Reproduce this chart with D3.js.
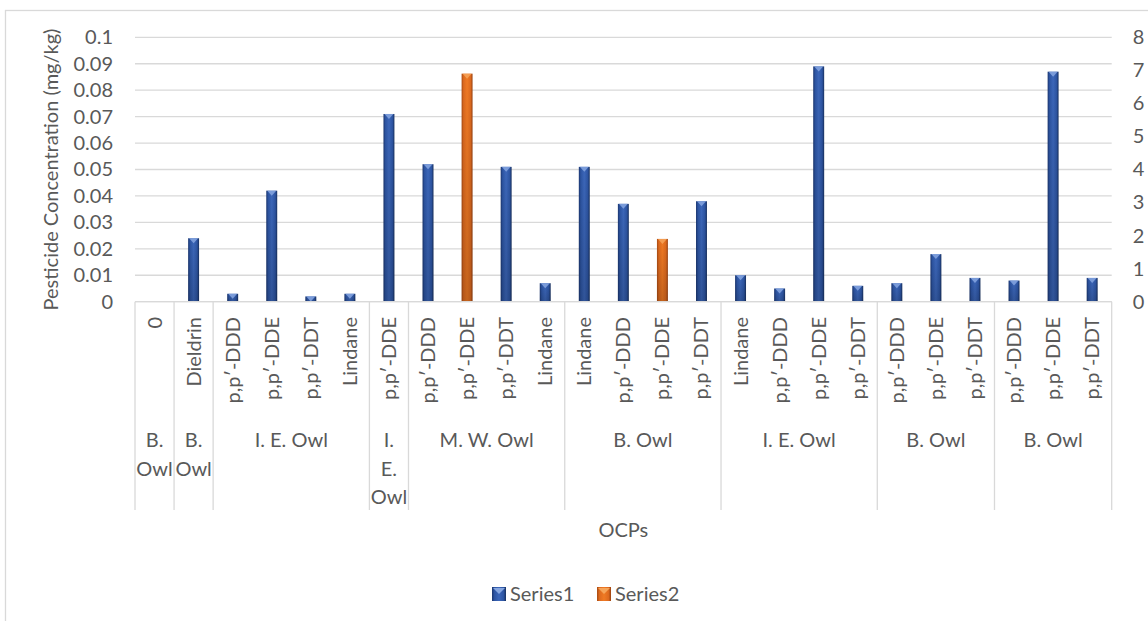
<!DOCTYPE html>
<html>
<head>
<meta charset="utf-8">
<script src="https://cdn.jsdelivr.net/npm/d3@7"></script>
<style>
  body { margin: 0; background: #fff; }
  svg { display: block; }
  text { font-family: Lato, "Open Sans", sans-serif; fill: #595959; }
</style>
</head>
<body>
<svg id="chart" width="1148" height="621"></svg>
<script>
// Outer category level (owl species), with the number of compounds under each
const groupNames = ["B. Owl", "B. Owl", "I. E. Owl", "I. E. Owl", "M. W. Owl", "B. Owl", "I. E. Owl", "B. Owl", "B. Owl"];
const groupSizes = [1, 1, 4, 1, 4, 4, 4, 3, 3];

// Inner category level (compound)
const compounds = [
  "0",
  "Dieldrin",
  "p,p′-DDD", "p,p′-DDE", "p,p′-DDT", "Lindane",
  "p,p′-DDE",
  "p,p′-DDD", "p,p′-DDE", "p,p′-DDT", "Lindane",
  "Lindane", "p,p′-DDD", "p,p′-DDE", "p,p′-DDT",
  "Lindane", "p,p′-DDD", "p,p′-DDE", "p,p′-DDT",
  "p,p′-DDD", "p,p′-DDE", "p,p′-DDT",
  "p,p′-DDD", "p,p′-DDE", "p,p′-DDT"
];

// Series1 on the primary axis (mg/kg)
const series1 = [
  0,
  0.024,
  0.003, 0.042, 0.002, 0.003,
  0.071,
  0.052, null, 0.051, 0.007,
  0.051, 0.037, null, 0.038,
  0.010, 0.005, 0.089, 0.006,
  0.007, 0.018, 0.009,
  0.008, 0.087, 0.009
];

// Series2 on the secondary axis
const series2 = [
  null,
  null,
  null, null, null, null,
  null,
  null, 6.9, null, null,
  null, null, 1.9, null,
  null, null, null, null,
  null, null, null,
  null, null, null
];

const leftTicks = [0, 0.01, 0.02, 0.03, 0.04, 0.05, 0.06, 0.07, 0.08, 0.09, 0.1];
const leftTickLabels = ["0", "0.01", "0.02", "0.03", "0.04", "0.05", "0.06", "0.07", "0.08", "0.09", "0.1"];
const rightTicks = [0, 1, 2, 3, 4, 5, 6, 7, 8];

const seriesNames = ["Series1", "Series2"];

const svg = d3.select("#chart");
const W = 1148, H = 621;
const plot = { left: 135, right: 1111.7, top: 37.3, bottom: 301.7 };
const FS = 20;

// chart area border
svg.append("rect")
  .attr("x", 5.5).attr("y", 10.5)
  .attr("width", W + 10).attr("height", H + 10)
  .attr("fill", "#fff").attr("stroke", "#d9d9d9").attr("stroke-width", 1.3);

// gradients giving the bars their bevelled look
const defs = svg.append("defs");
function hGrad(id, stops) {
  const g = defs.append("linearGradient").attr("id", id)
    .attr("x1", "0%").attr("x2", "100%").attr("y1", "0%").attr("y2", "0%");
  stops.forEach(([o, c]) => g.append("stop").attr("offset", o).attr("stop-color", c));
}
hGrad("blueBar", [["0%", "#1b3670"], ["18%", "#2d55a3"], ["50%", "#3c67ba"], ["82%", "#2d55a3"], ["100%", "#17305f"]]);
hGrad("orangeBar", [["0%", "#a84a12"], ["18%", "#dd6a1f"], ["50%", "#f07a24"], ["82%", "#dd6a1f"], ["100%", "#9a410f"]]);
const shade = defs.append("linearGradient").attr("id", "shadeDown")
  .attr("x1", "0%").attr("x2", "0%").attr("y1", "0%").attr("y2", "100%");
shade.append("stop").attr("offset", "0%").attr("stop-color", "#000").attr("stop-opacity", 0);
shade.append("stop").attr("offset", "100%").attr("stop-color", "#000").attr("stop-opacity", 0.18);

// scales
const idx = d3.range(compounds.length);
const xCat = d3.scaleBand().domain(idx).range([plot.left, plot.right]);
const xBar = d3.scaleBand().domain(idx).range([plot.left, plot.right])
  .paddingInner(0.72).paddingOuter(0.36);
const yL = d3.scaleLinear().domain([0, 0.1]).range([plot.bottom, plot.top]);
const yR = d3.scaleLinear().domain([0, 8]).range([plot.bottom, plot.top]);

// horizontal gridlines
svg.append("g").selectAll("line").data(leftTicks).join("line")
  .attr("x1", plot.left).attr("x2", plot.right)
  .attr("y1", d => yL(d)).attr("y2", d => yL(d))
  .attr("stroke", "#d9d9d9").attr("stroke-width", 1.3);

// left axis
const axL = svg.append("g").attr("transform", `translate(${plot.left},0)`)
  .call(d3.axisLeft(yL).tickValues(leftTicks).tickSize(0).tickPadding(22)
    .tickFormat((d, i) => leftTickLabels[i]));
axL.select(".domain").remove();
axL.selectAll("text").attr("font-size", FS).style("font-family", null);

// right axis
const axR = svg.append("g").attr("transform", `translate(${plot.right},0)`)
  .call(d3.axisRight(yR).tickValues(rightTicks).tickSize(0).tickPadding(21));
axR.select(".domain").remove();
axR.selectAll("text").attr("font-size", FS).style("font-family", null);

// bars
function drawBars(values, yScale, fillId, tipColor) {
  const data = idx.filter(i => values[i] != null && values[i] > 0);
  const g = svg.append("g");
  const bars = g.selectAll("g").data(data).join("g");
  bars.append("rect")
    .attr("x", i => xBar(i)).attr("width", xBar.bandwidth())
    .attr("y", i => yScale(values[i])).attr("height", i => plot.bottom - yScale(values[i]))
    .attr("fill", `url(#${fillId})`);
  bars.append("rect")
    .attr("x", i => xBar(i)).attr("width", xBar.bandwidth())
    .attr("y", i => yScale(values[i])).attr("height", i => plot.bottom - yScale(values[i]))
    .attr("fill", "url(#shadeDown)");
  bars.append("path")
    .attr("d", i => {
      const x0 = xBar(i), w = xBar.bandwidth(), y0 = yScale(values[i]);
      return `M${x0 + 1},${y0}L${x0 + w - 1},${y0}L${x0 + w / 2},${y0 + 5}Z`;
    })
    .attr("fill", tipColor).attr("opacity", 0.85);
}
drawBars(series1, yL, "blueBar", "#86a6e0");
drawBars(series2, yR, "orangeBar", "#f6a55a");

// category axis line and group separators
svg.append("line")
  .attr("x1", plot.left).attr("x2", plot.right)
  .attr("y1", plot.bottom).attr("y2", plot.bottom)
  .attr("stroke", "#d9d9d9").attr("stroke-width", 1.3);

const groupStarts = groupSizes.map((s, i) => d3.sum(groupSizes.slice(0, i)));
const boundaries = groupStarts.map(s => xCat(s)).concat([plot.right]);
svg.append("g").selectAll("line").data(boundaries).join("line")
  .attr("x1", d => d).attr("x2", d => d)
  .attr("y1", plot.bottom).attr("y2", 510)
  .attr("stroke", "#d9d9d9").attr("stroke-width", 1.3);

// compound labels (rotated)
svg.append("g").selectAll("text").data(idx).join("text")
  .attr("transform", i => `translate(${xCat(i) + xCat.bandwidth() / 2},317) rotate(-90)`)
  .attr("text-anchor", "end").attr("dy", "0.35em")
  .attr("font-size", FS)
  .text(i => compounds[i]);

// species labels, wrapped one word per line when too wide for their column
const gl = svg.append("g");
groupNames.forEach((name, gi) => {
  const x0 = xCat(groupStarts[gi]);
  const w = xCat.step() * groupSizes[gi];
  const cx = x0 + w / 2;
  const t = gl.append("text").attr("x", cx).attr("y", 447)
    .attr("text-anchor", "middle").attr("font-size", FS).text(name);
  if (t.node().getComputedTextLength() > w - 4) {
    t.text(null);
    name.split(" ").forEach((word, k) => {
      t.append("tspan").attr("x", cx).attr("y", 447 + k * 28.5).text(word);
    });
  }
});

// axis titles
svg.append("text")
  .attr("transform", `translate(58,${(plot.top + plot.bottom) / 2}) rotate(-90)`)
  .attr("text-anchor", "middle").attr("font-size", FS)
  .text("Pesticide Concentration (mg/kg)");

svg.append("text")
  .attr("x", (plot.left + plot.right) / 2).attr("y", 537)
  .attr("text-anchor", "middle").attr("font-size", FS)
  .text("OCPs");

// legend
const legend = svg.append("g");
const legendItems = [
  { name: seriesNames[0], x: 492, fill: "blueBar", tip: "#86a6e0" },
  { name: seriesNames[1], x: 597, fill: "orangeBar", tip: "#f6a55a" }
];
legendItems.forEach(d => {
  legend.append("rect").attr("x", d.x).attr("y", 587).attr("width", 14).attr("height", 14)
    .attr("fill", `url(#${d.fill})`);
  legend.append("path")
    .attr("d", `M${d.x + 1},${588}L${d.x + 13},${588}L${d.x + 7},${594}Z`)
    .attr("fill", d.tip);
  legend.append("text").attr("x", d.x + 18).attr("y", 601)
    .attr("font-size", FS).text(d.name);
});
</script>
</body>
</html>
